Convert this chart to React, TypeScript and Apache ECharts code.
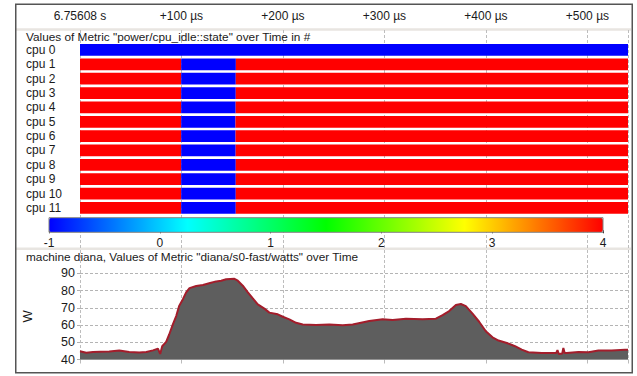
import React, { useEffect, useRef } from "react";
import * as echarts from "echarts";

// ---- data ----
const cpuLabels = ["cpu 0", "cpu 1", "cpu 2", "cpu 3", "cpu 4", "cpu 5", "cpu 6", "cpu 7", "cpu 8", "cpu 9", "cpu 10", "cpu 11"];
// busy interval (state -1) per cpu, in µs from 6.75608 s; remaining time is idle state 4
const busyStart = [0, 99.7, 99.7, 99.7, 99.7, 99.7, 99.7, 99.7, 99.7, 99.7, 99.7, 99.7];
const busyEnd = [540, 153.6, 153.5, 153.5, 153.4, 153.2, 153.3, 153.4, 153.5, 153.5, 153.5, 153.5];
const idleStateValue = 4;
const busyStateValue = -1;
const timeEnd = 540;

const powerTimes = [
  0, 6.2, 12.8, 20, 28.8, 38.7, 48.5, 58.4, 65.3, 71.9, 76.8, 79.0, 81.0, 84.9, 87.9, 91.5, 94.8, 97.7,
  101.4, 104.6, 107.9, 114.5, 121.1, 127.3, 134.2, 139.1, 144, 152.2, 155.5, 160.4, 165.4, 170.3, 175.2,
  181.7, 186.6, 194.9, 199.8, 206.3, 212.9, 219.5, 232.6, 245.7, 258.9, 268.7, 276.9, 285, 298.2, 308.1,
  321.2, 337.6, 350.7, 357.3, 363.8, 370.4, 375.3, 380.2, 386.8, 393.3, 399.9, 406.5, 412.4, 420.6, 428.7,
  435.3, 441.9, 455, 468.1, 469.3, 470.5, 471.8, 475.2, 476.3, 477.6, 479.6, 491.1, 501, 510.8, 523.9, 537, 540
];
const powerWatts = [
  44.8, 43.9, 44.4, 44.5, 44.6, 45.2, 44.4, 44.0, 44.4, 45.3, 46.3, 43.2, 47.7, 50.2, 54.5, 60.4, 65.2, 71,
  75, 78.9, 81.4, 82.6, 83.2, 84.2, 85.3, 85.7, 86.5, 86.8, 85.7, 82.8, 78.9, 75.4, 72,
  69.5, 67.2, 66.2, 64.8, 63.3, 61.3, 60.3, 60, 60.3, 59.8, 60.3, 61.3, 62.3, 63.3, 62.9,
  63.7, 63.3, 63.7, 65.8, 68.1, 71.6, 72.2, 71, 66.6, 61.9, 56.4, 52.9, 51, 49.6, 47.7,
  45.7, 44.2, 43.8, 43.8, 43.8, 45.5, 43.2, 43.5, 46.7, 43.8, 43.8, 44.4, 44.2, 45.2, 45.2, 45.7, 45.7
];

const FONT = "Liberation Sans, Arial, sans-serif";
const TXT = "#1a1a1a";
const FS = 12;

export default function App() {
  const ref = useRef<HTMLDivElement>(null);
  useEffect(() => {
    if (!ref.current) return;
    const chart = echarts.init(ref.current, undefined, { renderer: "svg" });

    const segments: number[][] = [];
    cpuLabels.forEach((_, i) => {
      const s = busyStart[i];
      const e = busyEnd[i];
      if (s > 0) segments.push([0, s, i, idleStateValue]);
      segments.push([s, e, i, busyStateValue]);
      if (e < timeEnd) segments.push([e, timeEnd, i, idleStateValue]);
    });

    const powerData = powerTimes.map((t, i) => [t, powerWatts[i]]);

    const timeFmt = (v: number) => (v === 0 ? "6.75608 s" : `+${v} µs`);

    const option: any = {
      animation: false,
      backgroundColor: "#ffffff",
      textStyle: { fontFamily: FONT },
      grid: [
        { left: 80, right: 9, top: 42.8, height: 172.3 },
        { left: 49, width: 554, top: 232.3, height: 1 },
        { left: 80, right: 9, top: 273.3, height: 86.2 },
        { left: 80, right: 9, top: 30, height: 330 },
      ],
      xAxis: [
        {
          gridIndex: 0, type: "value", min: 0, max: timeEnd, interval: 100, position: "top",
          axisLine: { show: false }, axisTick: { show: false }, splitLine: { show: false },
          axisLabel: { formatter: timeFmt, showMaxLabel: false, margin: 21, fontSize: FS, color: TXT, fontFamily: FONT },
        },
        {
          gridIndex: 1, type: "value", min: -1, max: 4, interval: 1, position: "bottom",
          axisLine: { show: false }, splitLine: { show: false },
          axisTick: { show: true, inside: true, length: 3, lineStyle: { color: "#333" } },
          axisLabel: { margin: 4, fontSize: FS, color: TXT, fontFamily: FONT },
        },
        {
          gridIndex: 2, type: "value", min: 0, max: timeEnd, interval: 100,
          axisLine: { show: true, lineStyle: { color: "#c8c8c8" } },
          axisTick: { show: true, length: 4, lineStyle: { color: "#bbbbbb" } },
          axisLabel: { show: false }, splitLine: { show: false },
        },
        {
          gridIndex: 3, type: "value", min: 0, max: timeEnd, interval: 100,
          axisLine: { show: false }, axisTick: { show: false }, axisLabel: { show: false },
          splitLine: { show: true, lineStyle: { color: "#bdbdbd", type: [3, 2], width: 1 } },
        },
      ],
      yAxis: [
        {
          gridIndex: 0, type: "category", data: cpuLabels, inverse: true,
          axisLine: { show: false }, axisTick: { show: false }, splitLine: { show: false },
          axisLabel: { interval: 0, align: "left", margin: 54, fontSize: FS, color: TXT, fontFamily: FONT },
        },
        { gridIndex: 1, type: "value", min: 0, max: 1, show: false },
        {
          gridIndex: 2, type: "value", min: 40, max: 90, interval: 10,
          name: "W", nameLocation: "middle", nameGap: 46, nameRotate: 90,
          nameTextStyle: { fontSize: 13, color: TXT, fontFamily: FONT },
          axisLine: { show: false },
          axisTick: { show: true, length: 3, lineStyle: { color: "#b0b0b0" } },
          axisLabel: { margin: 5, fontSize: 12.5, color: TXT, fontFamily: FONT },
          splitLine: { show: true, lineStyle: { color: "#b4b4b4", type: [3, 2], width: 1 } },
        },
        { gridIndex: 3, type: "value", min: 0, max: 1, show: false },
      ],
      visualMap: {
        type: "continuous", min: -1, max: 4, orient: "horizontal",
        left: 49, top: 217.7, itemWidth: 14.6, itemHeight: 554, padding: 0,
        calculable: false, hoverLink: false, seriesIndex: 0, dimension: 3,
        inRange: { color: ["#0000ff", "#00ffff", "#00ff00", "#ffff00", "#ff0000"] },
      },
      series: [
        {
          type: "custom", xAxisIndex: 0, yAxisIndex: 0, data: segments,
          encode: { x: [0, 1], y: 2 },
          renderItem: (params: any, api: any) => {
            const p0 = api.coord([api.value(0), api.value(2)]);
            const p1 = api.coord([api.value(1), api.value(2)]);
            const h = api.size([0, 1])[1] * 0.82;
            return {
              type: "rect",
              shape: { x: p0[0], y: p0[1] - h / 2, width: p1[0] - p0[0], height: h },
              style: { fill: api.visual("color") },
            };
          },
        },
        {
          type: "line", xAxisIndex: 2, yAxisIndex: 2, data: powerData,
          showSymbol: false, symbol: "none",
          lineStyle: { color: "#a31d2b", width: 2 },
          areaStyle: { color: "#5e5e5e", opacity: 1, origin: "start" },
          z: 3,
        },
      ],
      graphic: [
        { type: "rect", shape: { x: 16, y: 28.3, width: 615, height: 2.4 }, style: { fill: "#e8e5e1" }, z: -1 },
        { type: "rect", shape: { x: 16, y: 247.6, width: 615, height: 2.4 }, style: { fill: "#e8e5e1" }, z: -1 },
        {
          type: "text", x: 26, y: 37, z: 100,
          style: { text: 'Values of Metric "power/cpu_idle::state" over Time in #', fontSize: 11.8, fontFamily: FONT, fill: TXT, verticalAlign: "middle" },
        },
        {
          type: "text", x: 26, y: 257, z: 100,
          style: { text: 'machine diana, Values of Metric "diana/s0-fast/watts" over Time', fontSize: 11.8, fontFamily: FONT, fill: TXT, verticalAlign: "middle" },
        },
        { type: "rect", shape: { x: 49, y: 217.7, width: 554, height: 14.6 }, style: { fill: "none", stroke: "#808080", lineWidth: 1 }, z: 100 },
        { type: "rect", shape: { x: 15.75, y: 4.25, width: 616.5, height: 368.5 }, style: { fill: "none", stroke: "#555555", lineWidth: 1.5 }, z: 100 },
      ],
    };

    chart.setOption(option);
    return () => chart.dispose();
  }, []);

  return <div ref={ref} style={{ width: 637, height: 376, position: "absolute", left: 0, top: 0 }} />;
}
